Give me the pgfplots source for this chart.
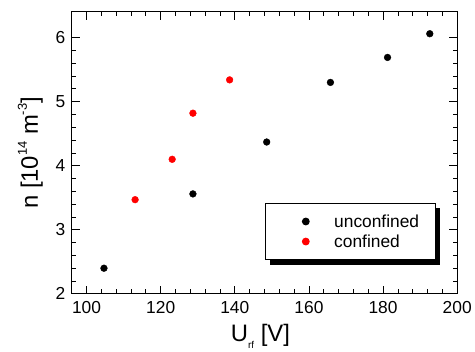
\documentclass[border=0pt]{standalone}
\usepackage{fontspec}
\setmainfont{Liberation Sans}
\usepackage{pgfplots}
\pgfplotsset{compat=1.18}
\usetikzlibrary{shadows}
\begin{document}
\begin{tikzpicture}
\begin{axis}[
  scale only axis,
  width=387bp, height=283bp,
  xmin=96, xmax=200, ymin=2, ymax=6.4,
  xtick={100,120,...,200}, ytick={2,3,...,6},
  minor x tick num=4, minor y tick num=4,
  tick align=inside, tick pos=both,
  xticklabel pos=lower, yticklabel pos=left,
  major tick length=8bp, minor tick length=4.5bp,
  axis line style={line width=1bp},
  every tick/.style={line width=0.8bp, black},
  /pgf/number format/assume math mode=true,
  tick label style={font=\fontsize{17.5}{20}\selectfont},
  xticklabel style={yshift=-4bp},
  yticklabel style={xshift=-3bp},
  every axis x label/.style={at={([xshift=-4bp,yshift=-48bp]axis description cs:0.5,0)}, anchor=base},
  every axis y label/.style={at={([xshift=-34bp]axis description cs:0,0.5)}, rotate=90, anchor=base},
  label style={font=\fontsize{24}{28}\selectfont},
  xlabel={U\raisebox{-7bp}{\fontsize{10}{12}\selectfont rf} [V]},
  ylabel={n [10\raisebox{11bp}{\fontsize{13}{14}\selectfont 14} m\raisebox{11bp}{\fontsize{13}{14}\selectfont -3}]},
  legend style={at={(0.5013,0.120)}, anchor=south west, draw=black, line width=1bp, fill=white,
    font=\fontsize{17.5}{20}\selectfont, inner xsep=14bp, inner ysep=9bp,
    drop shadow={shadow xshift=5bp, shadow yshift=-5bp, fill=black, opacity=1},
    row sep=2bp},
  legend image code/.code={\path (0bp,0bp) (52bp,0bp); \draw[#1] plot coordinates {(26bp,0bp)};},
  legend cell align=left,
]
\addplot[only marks, mark=*, mark size=3.4bp, black] coordinates {
  (104.7,2.40) (128.7,3.56) (148.6,4.37) (165.8,5.30) (181.2,5.69) (192.6,6.06)
};
\addlegendentry{unconfined}
\addplot[only marks, mark=*, mark size=3.4bp, red] coordinates {
  (113.1,3.47) (123.1,4.10) (128.7,4.82) (138.6,5.34)
};
\addlegendentry{confined}
\end{axis}
\path (current axis.south west) ++(-72bp,-54bp) rectangle ([shift={(16bp,12bp)}]current axis.north east);
\end{tikzpicture}
\end{document}
